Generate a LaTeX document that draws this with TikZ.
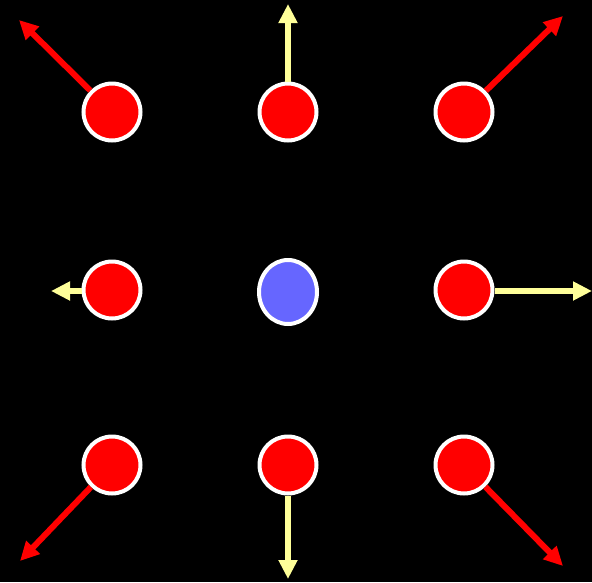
\documentclass[tikz,border=0pt]{standalone}
\usepackage{tikz}
\usetikzlibrary{arrows.meta,shapes.geometric}
\definecolor{ballred}{RGB}{255,0,0}
\definecolor{ballblue}{RGB}{102,102,255}
\definecolor{pale}{RGB}{255,255,153}

\begin{document}
\begin{tikzpicture}[x=1pt,y=-1pt,
  ball/.style={circle,draw=white,line width=4pt,fill=ballred,minimum size=57pt,inner sep=0pt},
  redarr/.style={draw=ballred,line width=6pt,-{Triangle[length=19pt,width=18pt]}},
  yelarr/.style={draw=pale,line width=6pt,-{Triangle[length=19pt,width=18pt]}}]
 \fill[black] (0,0) rectangle (592,582);
 \useasboundingbox (0,0) rectangle (592,582);
 % tips of the arrows
 \coordinate (tTL) at (19,20);
 \coordinate (tT)  at (288,4);
 \coordinate (tTR) at (563,16);
 \coordinate (tL)  at (51,291);
 \coordinate (tR)  at (592,291);
 \coordinate (tBL) at (20,561);
 \coordinate (tB)  at (288,579);
 \coordinate (tBR) at (563,566);
 % outer ring
 \node[ball] (bTL) at (112,112) {};
 \node[ball] (bT)  at (288,112) {};
 \node[ball] (bTR) at (464,112) {};
 \node[ball] (bL)  at (112,290) {};
 \node[ball] (bR)  at (464,290) {};
 \node[ball] (bBL) at (112,465) {};
 \node[ball] (bB)  at (288,465) {};
 \node[ball] (bBR) at (464,465) {};
 % centre
 \node[ellipse,draw=white,line width=4pt,fill=ballblue,minimum width=58pt,minimum height=64pt,inner sep=0pt] (mid) at (288,292) {};
 % diagonal ones
 \draw[redarr] (bTL) -- (tTL);
 \draw[redarr] (bTR) -- (tTR);
 \draw[redarr] (bBL) -- (tBL);
 \draw[redarr] (bBR) -- (tBR);
 % straight ones
 \draw[yelarr] (bT) -- (tT);
 \draw[yelarr] (bL.west |- tL) -- (tL);
 \draw[yelarr] (bR.east |- tR) -- (tR);
 \draw[yelarr] (bB) -- (tB);
\end{tikzpicture}
\end{document}
